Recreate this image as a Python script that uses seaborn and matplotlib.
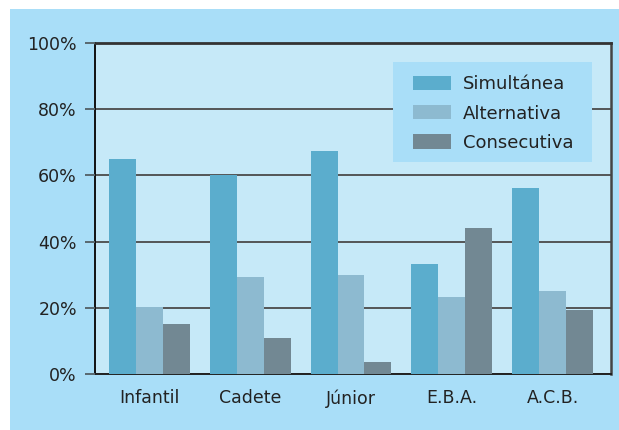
import numpy as np
import pandas as pd
import matplotlib
matplotlib.use("Agg")
import matplotlib.pyplot as plt
from matplotlib.patches import Rectangle
import seaborn as sns

# data (percent)
categorias = ['Infantil', 'Cadete', 'Júnior', 'E.B.A.', 'A.C.B.']
simultanea = [65.0, 60.1, 67.4, 33.2, 56.2]
alternativa = [20.1, 29.3, 29.9, 23.3, 25.1]
consecutiva = [15.1, 10.9, 3.6, 44.1, 19.3]
series = ['Simultánea', 'Alternativa', 'Consecutiva']
colores = ['#5badcd', '#8dbad0', '#728893']
yticks = [0, 20, 40, 60, 80, 100]

df = pd.DataFrame({
    'categoria': categorias * 3,
    'serie': [s for s in series for _ in categorias],
    'valor': simultanea + alternativa + consecutiva,
})

sns.set_style('white', {'ytick.left': True, 'xtick.bottom': False})
plt.rcParams['font.family'] = ['DejaVu Sans']

fig = plt.figure(figsize=(6.19, 4.30), dpi=100, facecolor='white')
# light blue panel behind everything
panel = Rectangle((10 / 619, 0), 1, 1 - 9 / 430, transform=fig.transFigure,
                  facecolor='#a9def8', edgecolor='none', zorder=-10)
fig.add_artist(panel)
ax = fig.add_axes([95 / 619, 56 / 430, 516 / 619, 331 / 430])
ax.set_zorder(1)
ax.set_facecolor('#c6e9f8')

sns.barplot(data=df, x='categoria', y='valor', hue='serie', palette=colores,
            saturation=1, width=0.8, linewidth=0, ax=ax, zorder=3)

ax.set_ylim(0, 100)
ax.set_xlim(-0.54, 4.58)
ax.set_yticks(yticks)
ax.set_yticklabels([f'{t}%' for t in yticks])
ax.yaxis.grid(True, color='#4a4a4a', linewidth=1.3, zorder=1)
ax.set_axisbelow(True)
ax.set_xlabel('')
ax.set_ylabel('')
ax.tick_params(axis='y', which='major', left=True, length=7.2, width=1.3,
               color='#5a6a72', labelsize=12.5, labelcolor='#222222', pad=5.8,
               direction='out')
ax.tick_params(axis='x', length=0, labelsize=12.5, labelcolor='#222222', pad=11)
# tick marks sticking out to the left of the axis
ax.hlines(yticks, -10 / 516, 0, transform=ax.get_yaxis_transform(),
          colors='#5a6a72', linewidth=1.3, clip_on=False, zorder=5)

for side, lw, col in [('top', 2.0, '#333333'), ('left', 1.4, '#111111'),
                      ('right', 1.8, '#444444'), ('bottom', 1.4, '#222222')]:
    ax.spines[side].set_visible(True)
    ax.spines[side].set_linewidth(lw)
    ax.spines[side].set_color(col)

# legend box (drawn separately so the side padding can be wider)
ax.add_patch(Rectangle((0.5775, 0.640), 0.3855, 0.303, transform=ax.transAxes,
                       facecolor='#a9def8', edgecolor='none', zorder=6))
leg = ax.legend(loc='center left', bbox_to_anchor=(0.616, 0.787), borderaxespad=0,
                frameon=False, fontsize=13, handlelength=2.1, handleheight=0.83,
                handletextpad=0.66, labelspacing=0.62, borderpad=0, title=None)
leg.set_zorder(7)
for t in leg.get_texts():
    t.set_color('#222222')
for h in leg.legend_handles:
    h.set_linewidth(0)

fig.savefig('out.png', dpi=100, facecolor='white')
